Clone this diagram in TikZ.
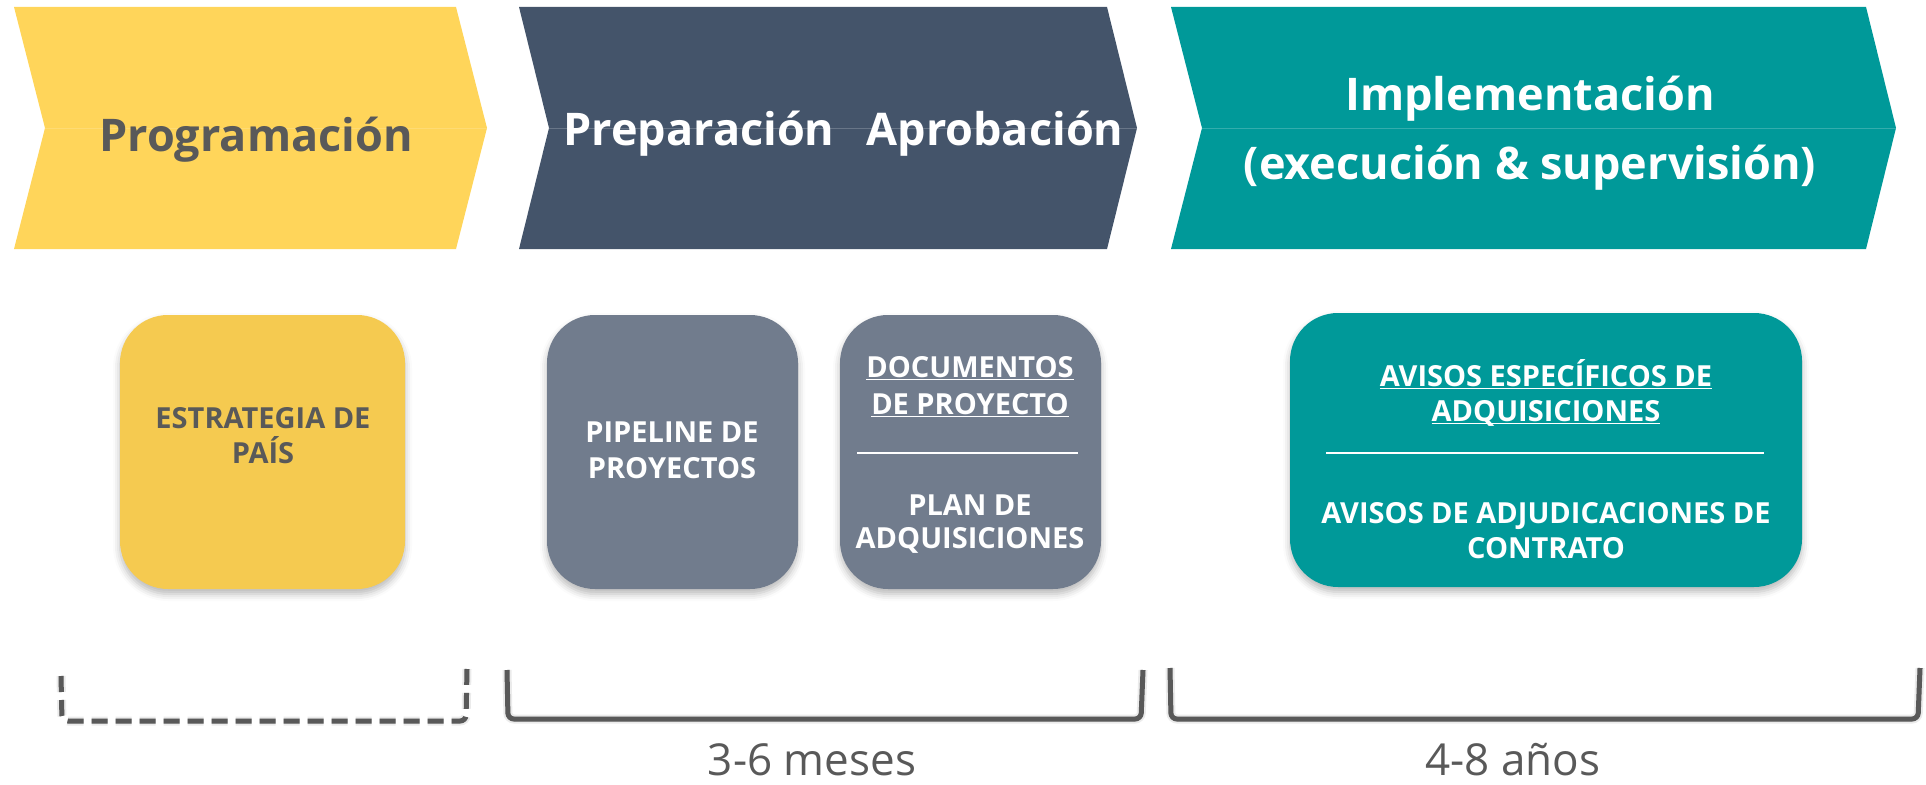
\documentclass[tikz,border=0pt]{standalone}
\usepackage{fontspec}
\setmainfont{Open Sans}
\usetikzlibrary{shadows.blur}
\definecolor{ychev}{HTML}{FFD55A}
\definecolor{ybox}{HTML}{F5CA50}
\definecolor{dchev}{HTML}{44546A}
\definecolor{gbox}{HTML}{717C8D}
\definecolor{tealc}{HTML}{009999}
\definecolor{tgray}{HTML}{595959}
\newcommand\myul[1]{\setbox0\hbox{#1}\rlap{\rule[-0.12em]{\wd0}{0.065em}}\box0}
\tikzset{
  headtxt/.style={anchor=base, inner sep=0pt, font=\fontsize{45}{54}\selectfont\bfseries},
  boxtxt/.style={anchor=base, inner sep=0pt, text=white, font=\fontsize{29}{36}\selectfont\bfseries},
  durtxt/.style={anchor=base, inner sep=0pt, text=tgray, font=\fontsize{44}{52}\selectfont},
  stagebox/.style={rounded corners=48pt, inner sep=0pt,
    blur shadow={shadow xshift=0pt, shadow yshift=-5pt, shadow blur radius=7pt, shadow opacity=28}},
  brack/.style={line width=5pt, draw=tgray, rounded corners=6pt},
  brackshadow/.style={line width=9pt, draw=black, opacity=0.08, rounded corners=6pt},
  brackshadowb/.style={line width=5pt, draw=black, opacity=0.12, rounded corners=6pt},
  midline/.style={line width=1pt}
}
\begin{document}
\begin{tikzpicture}[x=1pt, y=-1pt]
\useasboundingbox (0,0) rectangle (1926,784);
% chevrons
\fill[ychev] (14,7) -- (456,7) -- (487,128) -- (456,249) -- (14,249) -- (45,128) -- cycle;
\draw[midline, draw=ychev!85!white] (45,128) -- (487,128);
\fill[dchev] (519,7) -- (1107,7) -- (1137,128) -- (1107,249) -- (519,249) -- (549,128) -- cycle;
\draw[midline, draw=dchev!80!white] (549,128) -- (1137,128);
\fill[tealc] (1171,7) -- (1866,7) -- (1896,128) -- (1866,249) -- (1171,249) -- (1202,128) -- cycle;
\draw[midline, draw=tealc!80!white] (1202,128) -- (1896,128);
% headings
\node[headtxt, text=tgray] (prog) at (256,151) {Programación};
\node[headtxt, text=white] (prep) at (699,145) {Preparación};
\node[headtxt, text=white] (apro) at (995,145) {Aprobación};
\node[headtxt, text=white] (impl) at (1530,110) {Implementación};
\node[headtxt, text=white] (exec) at (1530,179) {(execución \& supervisión)};
% boxes
\node[stagebox, fill=ybox, minimum width=285pt, minimum height=274pt] (bEst) at (262.5,452) {};
\node[stagebox, fill=gbox, minimum width=251pt, minimum height=274pt] (bPip) at (672.5,452) {};
\node[stagebox, fill=gbox, minimum width=261pt, minimum height=274pt] (bDoc) at (970.5,452) {};
\node[stagebox, fill=tealc, minimum width=512pt, minimum height=274pt] (bAvi) at (1546,450) {};
% box texts
\node[boxtxt, text=tgray] (e1) at (263,428) {ESTRATEGIA DE};
\node[boxtxt, text=tgray] (e2) at (263,463) {PAÍS};
\node[boxtxt] (p1) at (672,442) {PIPELINE DE};
\node[boxtxt] (p2) at (672,478) {PROYECTOS};
\node[boxtxt] (d1) at (970,377) {\myul{DOCUMENTOS}};
\node[boxtxt] (d2) at (970,414) {\myul{DE PROYECTO}};
\coordinate (ds1) at (857,453);
\coordinate (ds2) at (1078,453);
\draw[white, line width=2pt] (ds1) -- (ds2);
\node[boxtxt] (d3) at (970,515) {PLAN DE};
\node[boxtxt] (d4) at (970,548) {ADQUISICIONES};
\node[boxtxt] (a1) at (1546,386) {\myul{AVISOS ESPECÍFICOS DE}};
\node[boxtxt] (a2) at (1546,421) {\myul{ADQUISICIONES}};
\coordinate (as1) at (1326,453);
\coordinate (as2) at (1764,453);
\draw[white, line width=2pt] (as1) -- (as2);
\node[boxtxt] (a3) at (1546,523) {AVISOS DE ADJUDICACIONES DE};
\node[boxtxt] (a4) at (1546,558) {CONTRATO};
% brackets
\coordinate (k1a) at (61,676); \coordinate (k1b) at (62,721); \coordinate (k1c) at (466,721); \coordinate (k1d) at (467,669);
\coordinate (k2a) at (507,670); \coordinate (k2b) at (508,719); \coordinate (k2c) at (1141,719); \coordinate (k2d) at (1143,670);
\coordinate (k3a) at (1170,668); \coordinate (k3b) at (1171,719); \coordinate (k3c) at (1918,719); \coordinate (k3d) at (1920,668);
\begin{scope}[shift={(1,5)}]
\draw[brackshadow, dash pattern=on 16pt off 8pt] (k1a) -- (k1b) -- (k1c) -- (k1d);
\draw[brackshadow] (k2a) -- (k2b) -- (k2c) -- (k2d);
\draw[brackshadow] (k3a) -- (k3b) -- (k3c) -- (k3d);
\end{scope}
\begin{scope}[shift={(1,3)}]
\draw[brackshadowb, dash pattern=on 16pt off 8pt] (k1a) -- (k1b) -- (k1c) -- (k1d);
\draw[brackshadowb] (k2a) -- (k2b) -- (k2c) -- (k2d);
\draw[brackshadowb] (k3a) -- (k3b) -- (k3c) -- (k3d);
\end{scope}
\draw[brack, dash pattern=on 16pt off 8pt] (k1a) -- (k1b) -- (k1c) -- (k1d);
\draw[brack] (k2a) -- (k2b) -- (k2c) -- (k2d);
\draw[brack] (k3a) -- (k3b) -- (k3c) -- (k3d);
% durations
\node[durtxt] (m36) at (812,775) {3-6 meses};
\node[durtxt] (a48) at (1513,775) {4-8 años};
\end{tikzpicture}
\end{document}
